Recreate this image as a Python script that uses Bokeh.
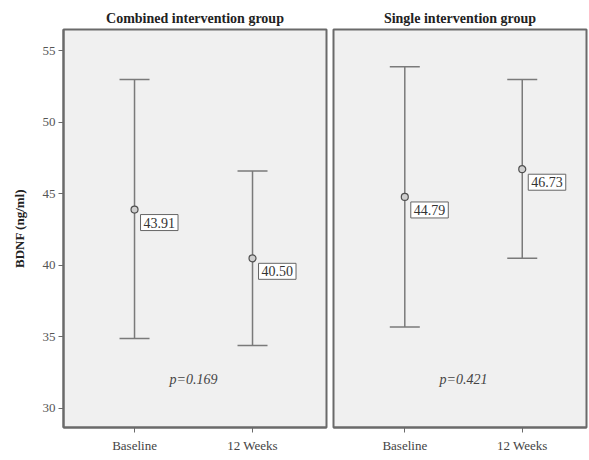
from bokeh.plotting import figure
from bokeh.layouts import row
from bokeh.models import Whisker, ColumnDataSource, Label, FixedTicker, TeeHead, Range1d
from bokeh.embed import file_html
from bokeh.resources import INLINE

categories = ["Baseline", "12 Weeks"]
groups = ["Combined intervention group", "Single intervention group"]
combined_mean = [43.91, 40.50]
combined_upper = [53.0, 46.6]
combined_lower = [34.9, 34.4]
single_mean = [44.79, 46.73]
single_upper = [53.9, 53.0]
single_lower = [35.7, 40.5]
p_values = ["p=0.169", "p=0.421"]
y_ticks = [30, 35, 40, 45, 50, 55]
y_label = "BDNF (ng/ml)"

SERIF = "Liberation Serif"
FRAME = "#6a6a6a"
BAR = "#7a7a7a"


def make_panel(title, means, upper, lower, pval, xr, width, show_y, mbl, mbr):
    xs = [1, 2]
    src = ColumnDataSource(dict(x=xs, mean=means, upper=upper, lower=lower))
    p = figure(width=width, height=455, output_backend="svg", toolbar_location=None,
               x_range=Range1d(*xr), y_range=Range1d(28.67, 56.5),
               y_axis_location="left" if show_y else None,
               min_border_left=mbl, min_border_right=mbr, min_border_top=29,
               min_border_bottom=28, title=title)
    p.title.align = "center"
    p.title.text_font = SERIF
    p.title.text_font_size = "14px"
    p.title.text_font_style = "bold"
    p.title.text_color = "#222222"
    p.title.standoff = 7
    p.background_fill_color = "#f0f0f0"
    p.border_fill_color = "white"
    p.outline_line_color = FRAME
    p.outline_line_width = 2
    p.grid.visible = False

    p.xaxis.ticker = FixedTicker(ticks=xs)
    p.xaxis.major_label_overrides = {x: c for x, c in zip(xs, categories)}
    p.xaxis.minor_tick_line_color = None
    p.xaxis.major_tick_out = 5
    p.xaxis.major_tick_in = 0
    p.xaxis.major_tick_line_color = FRAME
    p.xaxis.axis_line_color = FRAME
    p.xaxis.axis_line_width = 2
    p.xaxis.major_label_text_font = SERIF
    p.xaxis.major_label_text_font_size = "13px"
    p.xaxis.major_label_text_color = "#444444"
    p.xaxis.major_label_standoff = 5

    if show_y:
        p.yaxis.ticker = FixedTicker(ticks=y_ticks)
        p.yaxis.minor_tick_line_color = None
        p.yaxis.major_tick_out = 5
        p.yaxis.major_tick_in = 0
        p.yaxis.major_tick_line_color = FRAME
        p.yaxis.axis_line_color = FRAME
        p.yaxis.axis_line_width = 2
        p.yaxis.major_label_text_font = SERIF
        p.yaxis.major_label_text_font_size = "13px"
        p.yaxis.major_label_text_color = "#555555"
        p.yaxis.major_label_standoff = 3
        p.yaxis.axis_label = y_label
        p.yaxis.axis_label_text_font = SERIF
        p.yaxis.axis_label_text_font_size = "13px"
        p.yaxis.axis_label_text_font_style = "bold"
        p.yaxis.axis_label_text_color = "#222222"
        p.yaxis.axis_label_standoff = 13

    w = Whisker(source=src, base="x", upper="upper", lower="lower",
                line_color=BAR, line_width=1.5,
                upper_head=TeeHead(size=30, line_color=BAR, line_width=1.5),
                lower_head=TeeHead(size=30, line_color=BAR, line_width=1.5))
    p.add_layout(w)
    p.scatter("x", "mean", source=src, size=7, marker="circle",
              fill_color="#cfcfcf", line_color="#505050", line_width=1.2)

    for x, m in zip(xs, means):
        p.add_layout(Label(x=x, y=m, text=f"{m:.2f}", x_offset=6, y_offset=-5,
                           anchor="top_left", text_font=SERIF, text_font_size="14px",
                           text_color="#333333", background_fill_color="white",
                           border_line_color="#666666", border_line_width=1, padding=3))

    p.add_layout(Label(x=1.5, y=32.0, text=pval, text_align="center", text_baseline="middle",
                       text_font=SERIF, text_font_size="14px", text_font_style="italic",
                       text_color="#444444"))
    return p


p1 = make_panel(groups[0], combined_mean, combined_upper, combined_lower, p_values[0],
                (0.398, 2.627), 329, True, 63, 3)
p2 = make_panel(groups[1], single_mean, single_upper, single_lower, p_values[1],
                (0.393, 2.547), 259, False, 4, 2)

layout = row(p1, p2)
open("out.html", "w").write(file_html(layout, INLINE))
